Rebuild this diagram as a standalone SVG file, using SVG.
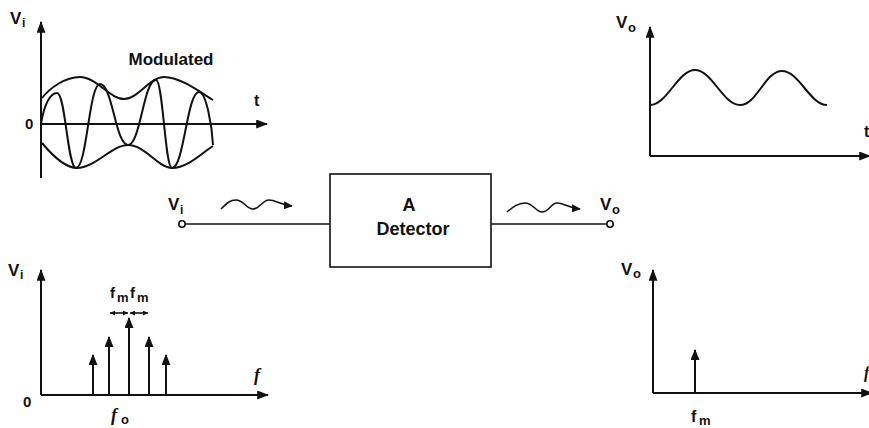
<svg xmlns="http://www.w3.org/2000/svg" width="869" height="428" viewBox="0 0 869 428">
<style>
.ax{stroke:#111;stroke-width:2;fill:none}
.wv{stroke:#111;stroke-width:2;fill:none;stroke-linejoin:round}
.ln{stroke:#111;stroke-width:1.6;fill:none}
.t{font-family:"Liberation Sans",Arial,sans-serif;font-weight:bold;fill:#111}
.it{font-family:"Liberation Serif","Times New Roman",serif;font-style:italic;font-weight:bold;fill:#111}
</style>
<defs>
<marker id="ah" viewBox="0 0 10 10" refX="9" refY="5" markerWidth="12" markerHeight="9" orient="auto" markerUnits="userSpaceOnUse" preserveAspectRatio="none"><path d="M0,0 L10,5 L0,10 z" fill="#111"/></marker>
<marker id="sp" viewBox="0 0 10 10" refX="9" refY="5" markerWidth="11" markerHeight="9" orient="auto" markerUnits="userSpaceOnUse" preserveAspectRatio="none"><path d="M0,0 L10,5 L0,10 z" fill="#111"/></marker>
<marker id="sm" viewBox="0 0 10 10" refX="10" refY="5" markerWidth="5" markerHeight="5" orient="auto-start-reverse" markerUnits="userSpaceOnUse" preserveAspectRatio="none"><path d="M0,0 L10,5 L0,10 z" fill="#111"/></marker>
<marker id="wa" viewBox="0 0 10 10" refX="9" refY="5" markerWidth="9" markerHeight="8" orient="auto" markerUnits="userSpaceOnUse" preserveAspectRatio="none"><path d="M0,0 L10,5 L0,10 z" fill="#111"/></marker>
</defs>

<g id="input-time-graph">
<line class="ax" x1="41" y1="178" x2="41" y2="22" marker-end="url(#ah)"/>
<line class="ax" x1="41" y1="124" x2="267" y2="124" marker-end="url(#ah)"/>
<path class="wv" d="M42,98 C50,88 65,77 80,77 C96,77 110,99 124,99 C138,99 150,77 164,77 C180,77 200,92 213,100"/>
<path class="wv" d="M42,143 C52,155 65,168 77,168 C95,168 112,145 128,145 C145,145 158,168 172,168 C188,168 203,152 213,146"/>
<path class="wv" d="M41,124 C44,105 50,93 57,93 C65.5,93 67.5,168 76,168 C87,168 89,84 100,84 C112.5,84 115.5,145 128,145 C140.5,145 143.5,80 156,80 C163,80 165,168 172,168 C184,168 187,92 199,92 C206,92 212,125 213,145"/>
<text class="t" x="10" y="24" font-size="17">V</text><text class="t" x="22" y="27" font-size="12">i</text>
<text class="t" x="25" y="129" font-size="15">0</text>
<text class="t" x="254" y="106" font-size="16">t</text>
<text class="t" x="171" y="65" font-size="17" text-anchor="middle">Modulated</text>
</g>

<g id="input-spectrum-graph">
<line class="ax" x1="41" y1="395" x2="41" y2="270" marker-end="url(#ah)"/>
<line class="ax" x1="41" y1="395" x2="268" y2="395" marker-end="url(#ah)"/>
<line class="ax" x1="93" y1="395" x2="93" y2="355" marker-end="url(#sp)"/>
<line class="ax" x1="109" y1="395" x2="109" y2="337" marker-end="url(#sp)"/>
<line class="ax" x1="129" y1="395" x2="129" y2="318" marker-end="url(#sp)"/>
<line class="ax" x1="149" y1="395" x2="149" y2="337" marker-end="url(#sp)"/>
<line class="ax" x1="166" y1="395" x2="166" y2="355" marker-end="url(#sp)"/>
<line class="ln" x1="110" y1="313" x2="128" y2="313" stroke-width="1.2" marker-start="url(#sm)" marker-end="url(#sm)"/>
<line class="ln" x1="130" y1="313" x2="148" y2="313" stroke-width="1.2" marker-start="url(#sm)" marker-end="url(#sm)"/>
<text class="t" x="8" y="276" font-size="17">V</text><text class="t" x="20" y="279" font-size="12">i</text>
<text class="t" x="23" y="407" font-size="15">0</text>
<text class="t" x="110" y="298" font-size="15">f</text><text class="t" x="117" y="302" font-size="13">m</text>
<text class="t" x="130" y="298" font-size="15">f</text><text class="t" x="137" y="302" font-size="13">m</text>
<text class="it" x="254" y="381" font-size="18">f</text>
<text class="it" x="111" y="421" font-size="18">f</text><text class="t" x="121" y="424" font-size="13">o</text>
</g>

<g id="output-time-graph">
<line class="ax" x1="650" y1="156" x2="650" y2="27" marker-end="url(#ah)"/>
<line class="ax" x1="650" y1="156" x2="870" y2="156" marker-end="url(#ah)"/>
<path class="wv" d="M650,105 C667,105 678,70 695,70 C712,70 723,105 740,105 C757,105 765,71 782,71 C799,71 810,105 827,105"/>
<text class="t" x="616" y="28" font-size="17">V</text><text class="t" x="628" y="32" font-size="13">o</text>
<text class="t" x="864" y="137" font-size="16">t</text>
</g>

<g id="output-spectrum-graph">
<line class="ax" x1="653" y1="393" x2="653" y2="270" marker-end="url(#ah)"/>
<line class="ax" x1="653" y1="393" x2="872" y2="393" marker-end="url(#ah)"/>
<line class="ax" x1="695" y1="393" x2="695" y2="350" marker-end="url(#sp)"/>
<text class="t" x="621" y="275" font-size="17">V</text><text class="t" x="633" y="278" font-size="13">o</text>
<text class="t" x="691" y="422" font-size="16">f</text><text class="t" x="699" y="425" font-size="13">m</text>
<text class="it" x="864" y="378" font-size="16">f</text>
</g>

<g id="detector">
<rect x="330" y="174" width="161" height="93" fill="none" stroke="#111" stroke-width="1.6"/>
<text class="t" x="409" y="211" font-size="18" text-anchor="middle">A</text>
<text class="t" x="413" y="235" font-size="18" text-anchor="middle">Detector</text>
</g>

<g id="input-terminal">
<circle cx="182" cy="224" r="3.2" fill="#fff" stroke="#111" stroke-width="1.6"/>
<text class="t" x="168" y="210" font-size="17">V</text><text class="t" x="180" y="214" font-size="12">i</text>
</g>

<g id="output-terminal">
<circle cx="610" cy="224" r="3.2" fill="#fff" stroke="#111" stroke-width="1.6"/>
<text class="t" x="600" y="210" font-size="17">V</text><text class="t" x="612" y="214" font-size="13">o</text>
</g>

<g id="connectors">
<line class="ln" x1="185" y1="224" x2="330" y2="224"/>
<line class="ln" x1="491" y1="224" x2="607" y2="224"/>
<path class="ln" d="M221,209 C227,203 230,200 236,200 C244,200 246,209 253,209 C260,209 262,200 269,200 C276,200 280,205 292,206" marker-end="url(#wa)"/>
<path class="ln" d="M507,212 C513,207 518,203 525,203 C533,203 536,212 542,212 C549,212 551,203 557,203 C564,203 568,208 580,209" marker-end="url(#wa)"/>
</g>
</svg>
